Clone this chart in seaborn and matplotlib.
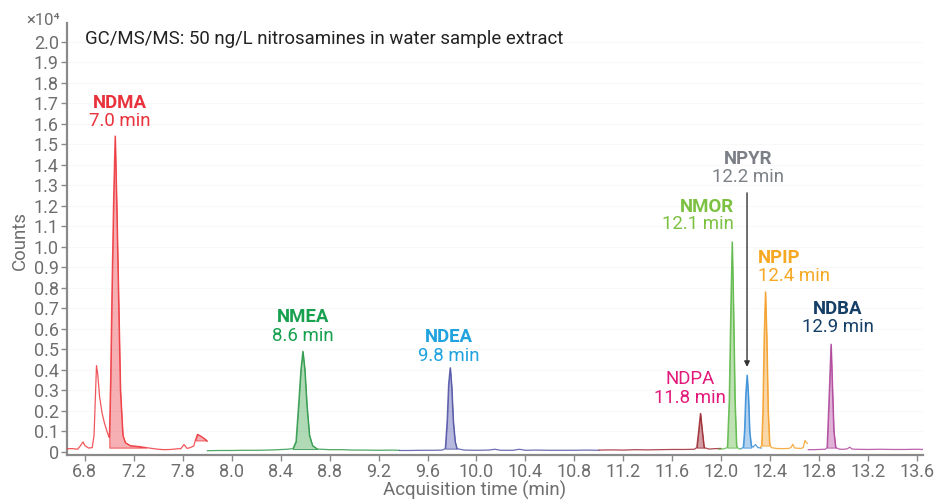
import numpy as np
import pandas as pd
import matplotlib
matplotlib.use("Agg")
import matplotlib.pyplot as plt
import seaborn as sns

# ---------------- data ----------------
compounds = ["NDMA", "NMEA", "NDEA", "NDPA", "NMOR", "NPYR", "NPIP", "NDBA"]
ret_labels = ["7.0 min", "8.6 min", "9.8 min", "11.8 min", "12.1 min", "12.2 min", "12.4 min", "12.9 min"]

ndma_t = [6.65, 6.70, 6.74, 6.765, 6.785, 6.80, 6.83, 6.86, 6.875, 6.885, 6.895, 6.905, 6.92, 6.94, 6.96, 6.98, 6.995, 7.00,
          7.01, 7.02, 7.035, 7.047, 7.06, 7.075, 7.09, 7.11, 7.13, 7.17, 7.25, 7.30, 7.35, 7.40, 7.45, 7.50, 7.55,
          7.585, 7.61, 7.635, 7.66, 7.69, 7.705, 7.72, 7.75, 7.78, 7.795, 7.80]
ndma_y = [0.015, 0.015, 0.012, 0.03, 0.048, 0.03, 0.018, 0.02, 0.08, 0.25, 0.42, 0.38, 0.27, 0.19, 0.14, 0.10, 0.075, 0.07,
          0.35, 0.75, 1.25, 1.54, 1.20, 0.75, 0.30, 0.08, 0.045, 0.03, 0.025, 0.02, 0.016, 0.012, 0.01, 0.011, 0.014,
          0.015, 0.035, 0.016, 0.02, 0.028, 0.06, 0.085, 0.075, 0.062, 0.055, 0.05]

nmea_t = [7.80, 7.90, 8.00, 8.10, 8.20, 8.30, 8.38, 8.45, 8.50, 8.525, 8.545, 8.565, 8.581, 8.597, 8.615, 8.635,
          8.66, 8.70, 8.80, 8.90, 9.00, 9.10, 9.20, 9.30, 9.37]
nmea_y = [0.005, 0.006, 0.006, 0.007, 0.007, 0.008, 0.01, 0.012, 0.015, 0.05, 0.22, 0.40, 0.49, 0.40, 0.22, 0.08,
          0.03, 0.013, 0.01, 0.01, 0.008, 0.008, 0.007, 0.008, 0.007]

ndea_t = [9.37, 9.45, 9.55, 9.65, 9.72, 9.745, 9.76, 9.772, 9.785, 9.797, 9.81, 9.825, 9.84, 9.90, 10.00, 10.10,
          10.15, 10.20, 10.30, 10.35, 10.40, 10.50, 10.60, 10.70, 10.80, 10.90, 11.00]
ndea_y = [0.006, 0.006, 0.007, 0.007, 0.008, 0.015, 0.15, 0.33, 0.41, 0.32, 0.15, 0.05, 0.015, 0.008, 0.007, 0.008,
          0.012, 0.007, 0.007, 0.012, 0.007, 0.008, 0.007, 0.007, 0.007, 0.008, 0.007]

ndpa_t = [11.00, 11.10, 11.20, 11.30, 11.40, 11.50, 11.60, 11.70, 11.78, 11.80, 11.815, 11.83, 11.845, 11.86,
          11.90, 11.95, 12.00]
ndpa_y = [0.008, 0.009, 0.008, 0.01, 0.009, 0.01, 0.011, 0.011, 0.012, 0.02, 0.10, 0.187, 0.10, 0.02,
          0.013, 0.015, 0.016]

nmor_t = [11.98, 12.02, 12.05, 12.065, 12.078, 12.089, 12.10, 12.112, 12.125, 12.14, 12.16]
nmor_y = [0.012, 0.014, 0.02, 0.25, 0.70, 1.024, 0.70, 0.25, 0.03, 0.015, 0.013]

npyr_t = [12.16, 12.18, 12.19, 12.20, 12.211, 12.222, 12.232, 12.245, 12.26, 12.28, 12.30, 12.33]
npyr_y = [0.015, 0.02, 0.10, 0.28, 0.374, 0.27, 0.10, 0.03, 0.022, 0.035, 0.02, 0.018]

npip_t = [12.32, 12.33, 12.34, 12.35, 12.361, 12.372, 12.383, 12.395, 12.41, 12.45, 12.50, 12.55, 12.57,
          12.585, 12.60, 12.65, 12.67, 12.685, 12.695, 12.705]
npip_y = [0.02, 0.03, 0.20, 0.55, 0.78, 0.55, 0.20, 0.04, 0.02, 0.016, 0.015, 0.016, 0.02,
          0.036, 0.018, 0.016, 0.02, 0.055, 0.045, 0.04]

ndba_t = [12.71, 12.75, 12.80, 12.85, 12.865, 12.88, 12.897, 12.91, 12.92, 12.935, 12.97, 13.00, 13.03, 13.05,
          13.07, 13.10, 13.20, 13.30, 13.40, 13.50, 13.60, 13.65]
ndba_y = [0.01, 0.01, 0.011, 0.012, 0.02, 0.25, 0.525, 0.28, 0.10, 0.02, 0.012, 0.012, 0.014, 0.022,
          0.013, 0.012, 0.011, 0.012, 0.011, 0.011, 0.012, 0.011]

# integration windows (filled areas)
windows = {
    "NDMA": [(7.0, 7.30), (7.70, 7.795)],
    "NMEA": [(8.50, 8.70)],
    "NDEA": [(9.74, 9.85)],
    "NDPA": [(11.80, 11.865)],
    "NMOR": [(12.05, 12.13)],
    "NPYR": [(12.18, 12.25)],
    "NPIP": [(12.325, 12.40)],
    "NDBA": [(12.86, 12.935)],
}

x_ticks = [6.8, 7.2, 7.6, 8.0, 8.4, 8.8, 9.2, 9.6, 10.0, 10.4, 10.8, 11.2, 11.6, 12.0, 12.4, 12.8, 13.2, 13.6]
x_tick_labels = ["6.8", "7.2", "7.8", "8.0", "8.4", "8.8", "9.2", "9.6", "10.0", "10.4", "10.8",
                 "11.2", "11.6", "12.0", "12.4", "12.8", "13.2", "13.6"]
y_ticks = [round(0.1 * i, 1) for i in range(21)]
y_tick_labels = ["0"] + [f"{v:.1f}" for v in y_ticks[1:]]

segments = {
    "NDMA": (ndma_t, ndma_y), "NMEA": (nmea_t, nmea_y), "NDEA": (ndea_t, ndea_y), "NDPA": (ndpa_t, ndpa_y),
    "NMOR": (nmor_t, nmor_y), "NPYR": (npyr_t, npyr_y), "NPIP": (npip_t, npip_y), "NDBA": (ndba_t, ndba_y),
}

# ---------------- styles ----------------
trace_colors = {"NDMA": "#ee3a40", "NMEA": "#2e9a4a", "NDEA": "#5254a6", "NDPA": "#9e2a33",
                "NMOR": "#5fb94a", "NPYR": "#3a8fd8", "NPIP": "#f5a02a", "NDBA": "#b0479c"}
fill_colors = {"NDMA": "#f5a3a6", "NMEA": "#a3d3a9", "NDEA": "#abacd8", "NDPA": "#c98e93",
               "NMOR": "#b3dda6", "NPYR": "#a6cbed", "NPIP": "#f9d09a", "NDBA": "#dba5d0"}
label_colors = {"NDMA": "#e8323c", "NMEA": "#17a04e", "NDEA": "#1fa2dd", "NDPA": "#e3197a",
                "NMOR": "#7cc142", "NPYR": "#7c8086", "NPIP": "#f7a823", "NDBA": "#163f68"}
label_bold = {"NDMA": True, "NMEA": True, "NDEA": True, "NDPA": False,
              "NMOR": True, "NPYR": True, "NPIP": True, "NDBA": True}
# (x, baseline y of name, baseline y of time, alignment)
label_pos = {
    "NDMA": (7.087, 1.675, 1.589, "center"),
    "NMEA": (8.584, 0.634, 0.541, "center"),
    "NDEA": (9.776, 0.537, 0.444, "center"),
    "NDPA": (11.742, 0.330, 0.239, "center"),
    "NMOR": (12.107, 1.171, 1.085, "right"),
    "NPYR": (12.216, 1.403, 1.314, "center"),
    "NPIP": (12.300, 0.922, 0.833, "left"),
    "NDBA": (12.952, 0.672, 0.582, "center"),
}

sns.set_theme(style="white")
plt.rcParams["font.family"] = ["Roboto", "DejaVu Sans"]
FONT = ["Roboto", "DejaVu Sans"]
GREY = "#6e6e6e"

fig = plt.figure(figsize=(9.37, 5.01), dpi=100)
ax = fig.add_axes([67 / 937, 1 - 455 / 501, (923 - 67) / 937, (455 - 23) / 501])

rows = []
for c in compounds:
    t, y = segments[c]
    for ti, yi in zip(t, y):
        rows.append({"time": ti, "counts": yi, "compound": c})
df = pd.DataFrame(rows)

sns.lineplot(data=df, x="time", y="counts", hue="compound", hue_order=compounds,
             palette=trace_colors, estimator=None, legend=False, linewidth=0.9, alpha=0.85, ax=ax, zorder=4)

for c in compounds:
    t = np.array(segments[c][0])
    y = np.array(segments[c][1])
    for (a, b) in windows[c]:
        m = (t >= a - 1e-9) & (t <= b + 1e-9)
        base = y[m].min()
        ax.fill_between(t[m], y[m], base, facecolor=fill_colors[c], edgecolor=trace_colors[c],
                        linewidth=0.7, alpha=0.85, zorder=3)

# faint grid
for v in y_ticks[1:]:
    ax.axhline(v, color="black", alpha=0.03, lw=0.6, zorder=5)

ax.set_xlim(6.654, 13.649)
ax.set_ylim(-0.016, 2.091)
ax.set_xticks(x_ticks)
ax.set_xticklabels(x_tick_labels)
ax.set_yticks(y_ticks)
ax.set_yticklabels(y_tick_labels)
ax.tick_params(axis="both", which="major", labelsize=13, colors="#8a8a8a", labelcolor=GREY,
               length=4, width=1.0, direction="out", pad=2, left=True, bottom=True)
for s in ["top", "right"]:
    ax.spines[s].set_visible(False)
for s in ["left", "bottom"]:
    ax.spines[s].set_color("#8a8a8a")
    ax.spines[s].set_linewidth(1.6)
ax.set_xlabel("Acquisition time (min)", fontsize=13.4, color=GREY, va="center")
ax.xaxis.set_label_coords((475 - 67) / 856, (455 - 490) / 432)
ax.set_ylabel("Counts", fontsize=13.4, color=GREY, va="center")
ax.yaxis.set_label_coords((20 - 67) / 856, (455 - 240) / 432)

for c, rt in zip(compounds, ret_labels):
    x, yn, yt, ha = label_pos[c]
    ax.text(x, yn, c, color=label_colors[c], fontsize=13.4, ha=ha, va="baseline",
            fontweight="bold" if label_bold[c] else "normal", family=FONT, zorder=6)
    ax.text(x, yt, rt, color=label_colors[c], fontsize=13.4, ha=ha, va="baseline", family=FONT, zorder=6)

ax.annotate("", xy=(12.211, 0.40), xytext=(12.211, 1.276),
            arrowprops=dict(arrowstyle="-|>", color="#333333", lw=1.0, mutation_scale=8), zorder=6)

fig.text(85 / 937, 1 - 43.5 / 501, "GC/MS/MS: 50 ng/L nitrosamines in water sample extract",
         fontsize=13.4, color="#222222", va="baseline", ha="left", family=FONT)
fig.text(26 / 937, 1 - 25 / 501, "×10⁴", fontsize=12, color=GREY, va="baseline", ha="left", family=FONT)

fig.savefig("out.png", dpi=100)
